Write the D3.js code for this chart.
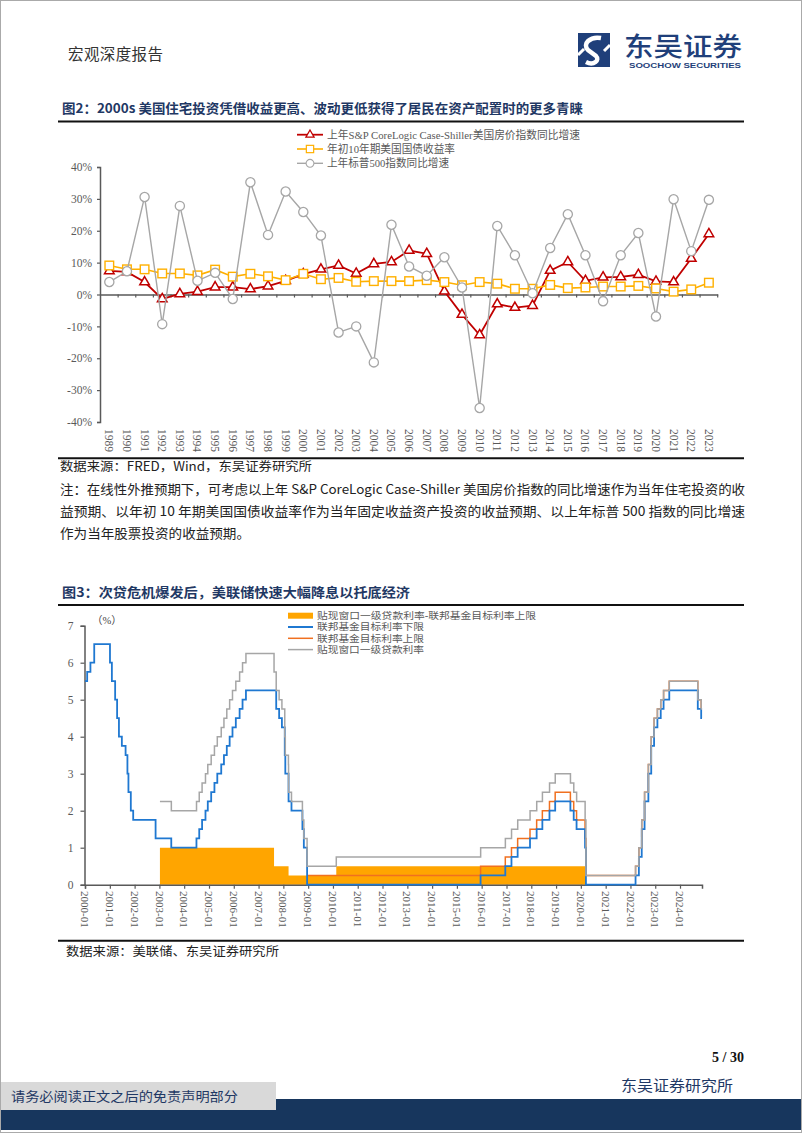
<!DOCTYPE html>
<html><head><meta charset="utf-8">
<script src="https://cdn.jsdelivr.net/npm/d3@7"></script>
<style>
html,body{margin:0;padding:0;background:#fff;}
svg{display:block;}
</style></head>
<body>
<svg id="page" width="802" height="1133"></svg>
<script>
// ---------- DATA: chart 1 ----------
const years = ["1989","1990","1991","1992","1993","1994","1995","1996","1997","1998","1999","2000","2001","2002","2003","2004","2005","2006","2007","2008","2009","2010","2011","2012","2013","2014","2015","2016","2017","2018","2019","2020","2021","2022","2023"];
const caseShiller = [7.4,7.1,3.9,-1.4,0.2,0.9,2.3,2.3,1.7,2.6,4.3,6.4,7.9,9.1,6.6,9.6,10.2,13.8,12.8,1.0,-6.3,-12.7,-3.0,-4.1,-3.5,7.5,10.2,4.3,5.4,5.5,6.2,4.1,3.9,11.3,19.0];
const treasury10y = [9.1,7.9,7.9,6.6,6.6,6.0,7.8,5.6,6.5,5.7,4.5,6.5,4.8,5.2,4.0,4.2,4.2,4.2,4.5,3.9,2.9,3.9,3.4,1.8,1.8,3.0,2.0,2.2,2.5,2.5,2.7,1.9,0.9,1.6,3.7];
const sp500 = [3.9,7.3,30.6,-9.3,27.8,4.3,6.8,-1.4,35.2,18.7,32.3,25.9,18.5,-11.9,-10.0,-21.3,21.9,8.8,5.9,11.7,2.2,-35.6,21.5,12.3,0.4,14.6,25.2,12.3,-2.1,12.3,19.3,-6.9,29.9,13.6,29.7];
const y1Ticks = [-40,-30,-20,-10,0,10,20,30,40];
const legend1 = ["上年S&P CoreLogic Case-Shiller美国房价指数同比增速","年初10年期美国国债收益率","上年标普500指数同比增速"];

// ---------- DATA: chart 2 (step change points) ----------
const fedLower = [["2000-01-01",5.5],["2000-02-02",5.75],["2000-03-21",6.0],["2000-05-16",6.5],["2001-01-03",6.0],["2001-01-31",5.5],["2001-03-20",5.0],["2001-04-18",4.5],["2001-05-15",4.0],["2001-06-27",3.75],["2001-08-21",3.5],["2001-09-17",3.0],["2001-10-02",2.5],["2001-11-06",2.0],["2001-12-11",1.75],["2002-11-06",1.25],["2003-06-25",1.0],["2004-06-30",1.25],["2004-08-10",1.5],["2004-09-21",1.75],["2004-11-10",2.0],["2004-12-14",2.25],["2005-02-02",2.5],["2005-03-22",2.75],["2005-05-03",3.0],["2005-06-30",3.25],["2005-08-09",3.5],["2005-09-20",3.75],["2005-11-01",4.0],["2005-12-13",4.25],["2006-01-31",4.5],["2006-03-28",4.75],["2006-05-10",5.0],["2006-06-29",5.25],["2007-09-18",4.75],["2007-10-31",4.5],["2007-12-11",4.25],["2008-01-22",3.5],["2008-01-30",3.0],["2008-03-18",2.25],["2008-04-30",2.0],["2008-10-08",1.5],["2008-10-29",1.0],["2008-12-16",0],["2015-12-16",0.25],["2016-12-14",0.5],["2017-03-15",0.75],["2017-06-14",1.0],["2017-12-13",1.25],["2018-03-21",1.5],["2018-06-13",1.75],["2018-09-26",2.0],["2018-12-19",2.25],["2019-07-31",2.0],["2019-09-18",1.75],["2019-10-30",1.5],["2020-03-03",1.0],["2020-03-16",0],["2022-03-17",0.25],["2022-05-05",0.75],["2022-06-16",1.5],["2022-07-28",2.25],["2022-09-22",3.0],["2022-11-03",3.75],["2022-12-15",4.25],["2023-02-02",4.5],["2023-03-23",4.75],["2023-05-04",5.0],["2023-07-27",5.25],["2024-09-19",4.75],["2024-11-08",4.5],["2024-11-20",4.5]];
const fedUpper = [["2008-12-16",0.25],["2015-12-16",0.5],["2016-12-14",0.75],["2017-03-15",1.0],["2017-06-14",1.25],["2017-12-13",1.5],["2018-03-21",1.75],["2018-06-13",2.0],["2018-09-26",2.25],["2018-12-19",2.5],["2019-07-31",2.25],["2019-09-18",2.0],["2019-10-30",1.75],["2020-03-03",1.25],["2020-03-16",0.25],["2022-03-17",0.5],["2022-05-05",1.0],["2022-06-16",1.75],["2022-07-28",2.5],["2022-09-22",3.25],["2022-11-03",4.0],["2022-12-15",4.5],["2023-02-02",4.75],["2023-03-23",5.0],["2023-05-04",5.25],["2023-07-27",5.5],["2024-09-19",5.0],["2024-11-08",4.75],["2024-11-20",4.75]];
const discountRate = [["2003-01-09",2.25],["2003-06-26",2.0],["2004-07-01",2.25],["2004-08-10",2.5],["2004-09-21",2.75],["2004-11-10",3.0],["2004-12-14",3.25],["2005-02-02",3.5],["2005-03-22",3.75],["2005-05-03",4.0],["2005-06-30",4.25],["2005-08-09",4.5],["2005-09-20",4.75],["2005-11-01",5.0],["2005-12-13",5.25],["2006-01-31",5.5],["2006-03-28",5.75],["2006-05-10",6.0],["2006-06-29",6.25],["2007-08-17",5.75],["2007-09-18",5.25],["2007-10-31",5.0],["2007-12-11",4.75],["2008-01-22",4.0],["2008-01-30",3.5],["2008-03-16",3.25],["2008-03-18",2.5],["2008-04-30",2.25],["2008-10-08",1.75],["2008-10-29",1.25],["2008-12-16",0.5],["2010-02-19",0.75],["2015-12-17",1.0],["2016-12-15",1.25],["2017-03-16",1.5],["2017-06-15",1.75],["2017-12-14",2.0],["2018-03-22",2.25],["2018-06-14",2.5],["2018-09-27",2.75],["2018-12-20",3.0],["2019-08-01",2.75],["2019-09-19",2.5],["2019-10-31",2.25],["2020-03-04",1.75],["2020-03-16",0.25],["2022-03-17",0.5],["2022-05-05",1.0],["2022-06-16",1.75],["2022-07-28",2.5],["2022-09-22",3.25],["2022-11-03",4.0],["2022-12-15",4.5],["2023-02-02",4.75],["2023-03-23",5.0],["2023-05-04",5.25],["2023-07-27",5.5],["2024-09-19",5.0],["2024-11-08",4.75],["2024-11-20",4.75]];
const spread = [["2003-01-09",1.0],["2007-08-17",0.5],["2008-03-18",0.25],["2010-02-19",0.5],["2020-03-16",0],["2024-11-20",0]];
const y2Ticks = [0,1,2,3,4,5,6,7];
const xTickYears = ["2000-01","2001-01","2002-01","2003-01","2004-01","2005-01","2006-01","2007-01","2008-01","2009-01","2010-01","2011-01","2012-01","2013-01","2014-01","2015-01","2016-01","2017-01","2018-01","2019-01","2020-01","2021-01","2022-01","2023-01","2024-01"];
const legend2 = ["贴现窗口一级贷款利率-联邦基金目标利率上限","联邦基金目标利率下限","联邦基金目标利率上限","贴现窗口一级贷款利率"];

// ---------- page ----------
const svg = d3.select("#page");
const CJK = "'Noto Sans CJK SC', sans-serif";
const SERIF = "'Liberation Serif','Noto Sans CJK SC', serif";
const SANS = "'Liberation Sans','Noto Sans CJK SC', sans-serif";
const NAVY = "#1F3864";

svg.append("rect").attr("x",0.5).attr("y",0.5).attr("width",801).attr("height",1132).attr("fill","#fff").attr("stroke","#aaa");

// header
svg.append("text").attr("x",68).attr("y",60).attr("font-family",CJK).attr("font-size",15.5).attr("fill","#333")
  .attr("textLength",95).text("宏观深度报告");
// logo
const logo = svg.append("g");
logo.append("rect").attr("x",578).attr("y",33).attr("width",32).attr("height",34).attr("fill","#1F3F7A");
logo.append("path").attr("d","M601,38 C590,36 582,44 588,50 L596,56 C600,60 594,66 586,62")
  .attr("fill","none").attr("stroke","#fff").attr("stroke-width",4.5);
logo.append("path").attr("d","M578,55 L584,49").attr("stroke","#fff").attr("stroke-width",3);
logo.append("path").attr("d","M610,45 L604,51").attr("stroke","#fff").attr("stroke-width",3);
svg.append("text").attr("x",624).attr("y",56).attr("font-family",SANS).attr("font-size",26).attr("font-weight",500)
  .attr("fill","#1F3F7A").attr("textLength",118).attr("lengthAdjust","spacingAndGlyphs").text("东吴证券");
svg.append("text").attr("x",629).attr("y",67.5).attr("font-family","'Liberation Sans',sans-serif").attr("font-size",8).attr("font-weight","bold")
  .attr("fill","#1F3F7A").attr("textLength",112).attr("lengthAdjust","spacingAndGlyphs").text("SOOCHOW SECURITIES");

// chart 1 title
svg.append("text").attr("x",62).attr("y",113).attr("font-family",CJK).attr("font-size",13).attr("font-weight","bold")
  .attr("fill",NAVY).attr("textLength",521).attr("lengthAdjust","spacingAndGlyphs")
  .text("图2：2000s 美国住宅投资凭借收益更高、波动更低获得了居民在资产配置时的更多青睐");
svg.append("line").attr("x1",58).attr("x2",744).attr("y1",121.5).attr("y2",121.5).attr("stroke","#111").attr("stroke-width",2);
svg.append("line").attr("x1",58).attr("x2",744).attr("y1",458.3).attr("y2",458.3).attr("stroke","#111").attr("stroke-width",2);

// ---------- chart 1 ----------
const x1 = d3.scaleBand().domain(years).range([100.5, 717.7]);
const y1 = d3.scaleLinear().domain([-40,40]).range([422,167]);
const cx = d => x1(d) + x1.bandwidth()/2;
const g1 = svg.append("g");
const AX = "#595959";

const yAx1 = g1.append("g").attr("transform","translate(100,0)")
  .call(d3.axisLeft(y1).tickValues(y1Ticks).tickSize(3).tickPadding(5).tickFormat(d=>d+"%"));
yAx1.select(".domain").attr("stroke",AX).attr("stroke-width",1.5);
yAx1.selectAll(".tick line").attr("stroke",AX).attr("stroke-width",1.2);
yAx1.selectAll("text").attr("font-family",SERIF).attr("font-size",11.5).attr("fill","#595959");

const xAx1 = g1.append("g").attr("transform",`translate(0,${y1(0)})`)
  .call(d3.axisBottom(x1).tickSize(0).tickFormat(""));
xAx1.select(".domain").attr("stroke",AX).attr("stroke-width",1.5);
g1.selectAll(".xt1").data(years).join("line")
  .attr("x1",d=> x1(d) + x1.bandwidth()).attr("x2",d=> x1(d) + x1.bandwidth())
  .attr("y1",y1(0)).attr("y2",y1(0)+3).attr("stroke",AX).attr("stroke-width",1.2);
g1.selectAll(".xl1").data(years).join("text")
  .attr("transform",d=>`translate(${cx(d)},429) rotate(90)`)
  .attr("dy","0.35em").attr("font-family",SERIF).attr("font-size",11.5).attr("fill","#595959").text(d=>d);

const series1 = [
  {vals:caseShiller, color:"#C00000", w:1.8, shape:"tri"},
  {vals:treasury10y, color:"#FFB000", w:1.6, shape:"sq"},
  {vals:sp500, color:"#A6A6A6", w:1.4, shape:"circ"}
];
const line1 = d3.line().x((d,i)=>cx(years[i])).y(d=>y1(d));
function marker(sel, shape, color){
  if(shape==="tri") sel.append("path").attr("d",d3.symbol(d3.symbolTriangle,40)()).attr("fill","#fff").attr("stroke",color).attr("stroke-width",1.5);
  else if(shape==="sq") sel.append("rect").attr("x",-4.3).attr("y",-4.3).attr("width",8.6).attr("height",8.6).attr("fill","#fff").attr("stroke",color).attr("stroke-width",1.4);
  else sel.append("circle").attr("r",4.6).attr("fill","#fff").attr("stroke",color).attr("stroke-width",1.3);
}
series1.forEach(s=>{
  g1.append("path").datum(s.vals).attr("d",line1).attr("fill","none").attr("stroke",s.color).attr("stroke-width",s.w);
  g1.selectAll(null).data(s.vals).join("g").attr("transform",(d,i)=>`translate(${cx(years[i])},${y1(d)})`)
    .each(function(){ marker(d3.select(this), s.shape, s.color); });
});
// legend 1
const lg1Y = [134.7,149,163.3];
const lg1W = [253,128,122];
series1.forEach((s,i)=>{
  const g = g1.append("g").attr("transform",`translate(297,${lg1Y[i]})`);
  g.append("line").attr("x1",0).attr("x2",26).attr("stroke",s.color).attr("stroke-width",s.w);
  const m = g.append("g").attr("transform","translate(13,0) scale(0.85)");
  marker(m, s.shape, s.color);
  g.append("text").attr("x",30).attr("dy","0.35em").attr("font-family",SERIF).attr("font-size",11).attr("fill","#595959")
    .attr("textLength",lg1W[i]).attr("lengthAdjust","spacingAndGlyphs").text(legend1[i]);
});

// source & notes
svg.append("text").attr("x",60).attr("y",471).attr("font-family",CJK).attr("font-size",12.5).attr("fill","#222")
  .attr("textLength",252).attr("lengthAdjust","spacingAndGlyphs").text("数据来源：FRED，Wind，东吴证券研究所");
const notes = [
  ["注：在线性外推预期下，可考虑以上年 S&P CoreLogic Case-Shiller 美国房价指数的同比增速作为当年住宅投资的收",685],
  ["益预期、以年初 10 年期美国国债收益率作为当年固定收益资产投资的收益预期、以上年标普 500 指数的同比增速",685],
  ["作为当年股票投资的收益预期。",190]];
notes.forEach((n,i)=>{
  svg.append("text").attr("x",60).attr("y",494+i*22).attr("font-family",CJK).attr("font-size",13).attr("fill","#222")
    .attr("textLength",n[1]).attr("lengthAdjust","spacingAndGlyphs").text(n[0]);
});

// chart 2 title
svg.append("text").attr("x",62).attr("y",597).attr("font-family",CJK).attr("font-size",13).attr("font-weight","bold")
  .attr("fill",NAVY).attr("textLength",348).attr("lengthAdjust","spacingAndGlyphs")
  .text("图3：次贷危机爆发后，美联储快速大幅降息以托底经济");
svg.append("line").attr("x1",58).attr("x2",744).attr("y1",605).attr("y2",605).attr("stroke","#111").attr("stroke-width",2);
svg.append("line").attr("x1",58).attr("x2",744).attr("y1",940.7).attr("y2",940.7).attr("stroke","#111").attr("stroke-width",2);
svg.append("text").attr("x",66).attr("y",956).attr("font-family",CJK).attr("font-size",12.5).attr("fill","#222")
  .attr("textLength",213).attr("lengthAdjust","spacingAndGlyphs").text("数据来源：美联储、东吴证券研究所");

// ---------- chart 2 ----------
const parse = d3.timeParse("%Y-%m-%d");
const pm = d3.timeParse("%Y-%m");
const x2 = d3.scaleTime().domain([parse("2000-01-01"), parse("2024-11-20")]).range([85,702]);
const y2 = d3.scaleLinear().domain([0,7]).range([884.7,625.7]);
const g2 = svg.append("g");

const yAx2 = g2.append("g").attr("transform","translate(84.5,0)")
  .call(d3.axisLeft(y2).tickValues(y2Ticks).tickSize(4).tickPadding(7).tickFormat(d3.format("d")));
yAx2.select(".domain").attr("stroke",AX).attr("stroke-width",1.5);
yAx2.selectAll(".tick line").attr("stroke",AX).attr("stroke-width",1.2);
yAx2.selectAll("text").attr("font-family",SERIF).attr("font-size",11.5).attr("fill","#595959");
g2.append("text").attr("x",92).attr("y",624).attr("font-family",SERIF).attr("font-size",10.5).attr("fill","#444").text("（%）");

const area2 = d3.area().curve(d3.curveStepAfter).x(d=>x2(parse(d[0]))).y0(y2(0)).y1(d=>y2(d[1]));
g2.append("path").datum(spread).attr("d",area2).attr("fill","#FFA500");

const xAx2 = g2.append("g").attr("transform",`translate(0,${y2(0)})`)
  .call(d3.axisBottom(x2).tickValues(xTickYears.map(pm)).tickSize(4).tickFormat(""));
xAx2.select(".domain").attr("stroke",AX).attr("stroke-width",1.5);
xAx2.selectAll(".tick line").attr("stroke",AX).attr("stroke-width",1.2);
g2.selectAll(".xl2").data(xTickYears).join("text")
  .attr("transform",d=>`translate(${x2(pm(d))},891) rotate(90)`)
  .attr("dy","0.35em").attr("font-family",SERIF).attr("font-size",11).attr("fill","#595959").text(d=>d);

const line2 = d3.line().curve(d3.curveStepAfter).x(d=>x2(parse(d[0]))).y(d=>y2(d[1]));
g2.append("path").datum(fedUpper).attr("d",line2).attr("fill","none").attr("stroke","#F07020").attr("stroke-width",1.5);
g2.append("path").datum(fedLower).attr("d",line2).attr("fill","none").attr("stroke","#1F78D1").attr("stroke-width",1.8);
g2.append("path").datum(discountRate).attr("d",line2).attr("fill","none").attr("stroke","#A6A6A6").attr("stroke-width",1.5);

// legend 2
const lg2Y = [615.7,627,638.3,649.6];
const lg2W = [219,107,107,107];
legend2.forEach((t,i)=>{
  const g = g2.append("g").attr("transform",`translate(288,${lg2Y[i]})`);
  if(i===0) g.append("rect").attr("x",0).attr("y",-3).attr("width",25).attr("height",6).attr("fill","#FFA500");
  else g.append("line").attr("x1",0).attr("x2",25).attr("stroke",["","#1F78D1","#F07020","#A6A6A6"][i]).attr("stroke-width",i===1?2:1.5);
  g.append("text").attr("x",29).attr("dy","0.35em").attr("font-family",SERIF).attr("font-size",9.6).attr("fill","#595959")
    .attr("textLength",lg2W[i]).attr("lengthAdjust","spacingAndGlyphs").text(t);
});

// footer
svg.append("text").attr("x",744).attr("y",1062).attr("text-anchor","end").attr("font-family",SERIF).attr("font-size",14).attr("font-weight","bold")
  .attr("fill","#111").text("5 / 30");
svg.append("text").attr("x",621).attr("y",1091).attr("font-family",CJK).attr("font-size",15).attr("fill","#1F3864")
  .attr("textLength",112).attr("lengthAdjust","spacingAndGlyphs").text("东吴证券研究所");
svg.append("rect").attr("x",1).attr("y",1099).attr("width",800).attr("height",31).attr("fill","#17365D");
svg.append("rect").attr("x",1).attr("y",1082).attr("width",275).attr("height",28).attr("fill","#D9D9D9");
svg.append("text").attr("x",11).attr("y",1101).attr("font-family",CJK).attr("font-size",13).attr("fill","#1F3864")
  .attr("textLength",227).attr("lengthAdjust","spacingAndGlyphs").text("请务必阅读正文之后的免责声明部分");
</script>
</body></html>
